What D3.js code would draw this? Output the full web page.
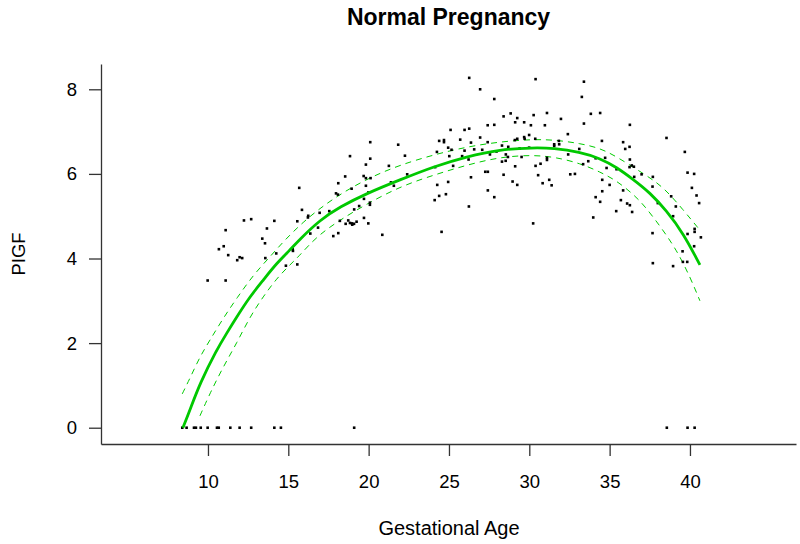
<!DOCTYPE html>
<html><head><meta charset="utf-8">
<script src="https://cdn.jsdelivr.net/npm/d3@7"></script>
<style>
html,body{margin:0;padding:0;background:#fff;}
svg{display:block;font-family:"Liberation Sans",Arial,Helvetica,sans-serif;}
</style></head>
<body>
<svg id="chart" width="800" height="544"></svg>
<script>
// ---- data ----
const title = "Normal Pregnancy";
const xLabel = "Gestational Age";
const yLabel = "PIGF";
const xTicks = [10, 15, 20, 25, 30, 35, 40];
const yTicks = [0, 2, 4, 6, 8];

// observations: [gestational age, PlGF]
const observations = [
[8.40,0],[8.67,0],[9.13,0],[9.25,0],[9.55,0],[9.98,0],[10.56,0],[10.67,0],[11.39,0],[11.97,0],[12.69,0],[14.13,0],[14.54,0],[19.10,0],[38.56,0],[39.85,0],[40.29,0],
[15.68,5.67],[15.85,5.15],[16.24,5.01],[12.24,4.90],[12.69,4.93],[14.13,4.89],[11.10,4.67],[13.67,4.71],[15.56,4.88],[13.38,4.47],[13.55,4.36],[10.98,4.29],[10.68,4.22],[11.26,4.08],[11.97,4.03],[12.13,4.01],[11.82,3.96],[15.27,4.22],[15.29,4.18],[14.25,4.12],[13.57,4.01],[14.85,3.83],[15.56,3.86],[9.98,3.48],[11.10,3.48],
[26.26,8.27],[26.94,8.00],[27.82,7.77],[28.84,7.43],[28.40,7.36],[29.25,7.32],[29.12,7.22],[27.41,7.15],[27.82,7.16],[25.10,7.04],[25.97,7.04],[26.26,7.07],[26.94,6.86],[20.10,6.75],[21.84,6.69],[24.39,6.78],[24.69,6.80],[24.69,6.75],[25.70,6.81],[26.37,6.74],[27.41,6.75],[24.95,6.62],[25.16,6.57],[24.25,6.52],[25.97,6.55],[26.57,6.58],[27.07,6.57],[28.30,6.67],[28.69,6.64],[29.10,6.80],[29.25,6.83],[18.84,6.42],[20.10,6.36],[22.26,6.43],[25.02,6.42],[25.82,6.42],[26.22,6.34],[27.55,6.46],[27.96,6.53],[28.54,6.46],[28.67,6.40],[28.30,6.29],[28.53,6.31],[19.83,6.22],[21.26,6.19],[24.14,6.16],[25.26,6.19],[29.12,6.18],[18.54,5.94],[19.69,5.95],[19.83,5.90],[20.12,5.90],[22.40,5.99],[27.26,6.05],[27.42,6.05],[28.40,5.98],[21.39,5.80],[21.57,5.72],[18.11,5.78],[28.96,5.82],[29.25,5.74],[24.27,5.74],[24.95,5.81],[26.37,5.92],[18.94,5.65],[17.97,5.54],[18.09,5.51],[19.83,5.72],[19.98,5.56],[27.42,5.61],[27.82,5.45],[24.39,5.48],[24.81,5.52],[24.11,5.38],[19.71,5.41],[20.08,5.32],[20.08,5.27],[19.41,5.24],[26.24,5.23],[16.22,4.97],[16.95,5.08],[17.55,5.12],[19.10,5.16],[18.96,4.83],[19.71,4.96],[18.21,4.89],[18.57,4.82],[18.73,4.90],[18.84,4.84],[18.98,4.80],[19.09,4.82],[19.25,4.87],[19.98,4.83],[16.85,4.73],[16.37,4.59],[17.80,4.53],[18.11,4.60],[20.85,4.56],[24.54,4.63],
[30.39,8.24],[33.40,8.18],[33.27,7.82],[30.27,7.39],[31.10,7.44],[29.68,7.22],[30.10,7.15],[30.97,7.15],[31.97,7.30],[33.83,7.42],[34.41,7.44],[33.40,7.19],[36.26,7.16],[32.40,6.94],[29.68,6.87],[29.71,6.83],[29.99,6.92],[30.37,6.83],[31.55,6.70],[31.55,6.66],[31.84,6.78],[31.86,6.70],[34.52,6.78],[35.84,6.75],[35.97,6.59],[36.24,6.64],[38.54,6.85],[39.68,6.52],[29.40,6.60],[29.99,6.62],[33.11,6.59],[32.42,6.46],[29.52,6.40],[31.10,6.38],[31.10,6.33],[30.70,6.24],[30.39,6.19],[33.35,6.23],[33.67,6.30],[34.13,6.37],[34.72,6.38],[36.26,6.34],[36.24,6.16],[36.38,6.20],[36.51,6.17],[35.43,6.11],[34.81,6.14],[30.55,5.97],[32.55,5.99],[32.84,6.00],[34.54,5.86],[35.00,5.74],[36.53,5.93],[36.99,5.99],[37.69,5.93],[39.85,6.03],[40.26,6.00],[30.83,5.78],[31.24,5.86],[31.39,5.73],[34.54,5.59],[34.13,5.45],[34.41,5.34],[35.84,5.61],[35.70,5.38],[36.09,5.30],[36.26,5.26],[36.40,5.10],[35.41,5.12],[33.98,4.97],[30.24,4.83],[37.67,5.70],[38.83,5.47],[38.00,5.31],[40.12,5.67],[40.41,5.49],[40.57,5.31],[39.12,5.23],[38.95,5.00],[37.67,4.60],[39.85,4.58],[40.29,4.70],[40.29,4.63],[40.68,4.50],[39.54,4.17],[40.26,4.29],[37.69,3.89],[39.56,3.92],[39.83,3.92],[38.95,3.82]
];

// fitted curve and confidence band
const fitAge   = [8.44,8.88,9.50,10.54,11.16,11.79,12.61,13.44,14.28,15.10,15.73,16.97,18.21,19.88,21.95,24.02,26.10,28.17,30.24,31.49,33.15,34.39,35.43,36.47,37.50,38.54,39.58,40.62];
const fitValue = [0.00,0.42,1.05,1.84,2.23,2.62,3.10,3.49,3.89,4.20,4.46,4.91,5.22,5.54,5.86,6.17,6.41,6.58,6.62,6.61,6.52,6.37,6.16,5.87,5.56,5.13,4.60,3.85];
const upperAge   = [8.40,8.88,9.50,10.12,10.95,11.79,12.82,13.86,14.69,15.93,17.39,18.84,20.29,21.95,24.02,26.10,28.17,30.24,31.70,33.15,34.39,35.43,37.09,38.33,39.58,40.62];
const upperValue = [0.80,1.17,1.68,2.07,2.59,3.06,3.61,4.04,4.40,4.87,5.31,5.66,5.95,6.21,6.45,6.64,6.76,6.82,6.80,6.72,6.61,6.41,6.01,5.70,5.15,4.67];
const lowerAge   = [9.50,10.12,10.95,11.79,12.61,13.44,14.28,15.10,15.73,16.76,18.21,19.88,21.95,24.02,26.10,28.17,30.24,31.70,33.15,34.39,35.43,36.47,37.19,38.23,39.17,40.00,40.62];
const lowerValue = [0.28,0.81,1.44,2.00,2.62,3.10,3.53,3.85,4.08,4.52,4.91,5.29,5.70,5.97,6.21,6.40,6.45,6.39,6.25,6.05,5.84,5.52,5.24,4.72,4.20,3.57,3.00];

// ---- drawing ----
const svg = d3.select("#chart");
const x = d3.scaleLinear().domain([3.342, 46.60]).range([101, 796]);
const y = d3.scaleLinear().domain([-0.385, 8.598]).range([444, 64]);

const axisColor = "#333";

const gx = svg.append("g").attr("transform", "translate(0,444)")
  .call(d3.axisBottom(x).tickValues(xTicks).tickSize(12).tickSizeOuter(0).tickPadding(19).tickFormat(d3.format("d")));
const gy = svg.append("g").attr("transform", "translate(101,0)")
  .call(d3.axisLeft(y).tickValues(yTicks).tickSize(12).tickSizeOuter(0).tickPadding(12).tickFormat(d3.format("d")));

[gx, gy].forEach(g => {
  g.select(".domain").attr("stroke", axisColor).attr("stroke-width", 1.3);
  g.selectAll(".tick line").attr("stroke", axisColor).attr("stroke-width", 1.3);
  g.selectAll(".tick text").attr("fill", "#000").style("font-size", "18.5px")
   .style("font-family", '"Liberation Sans",Arial,sans-serif');
});

const line = (ax, vals) => d3.line()
  .x((d, i) => x(ax[i])).y(d => y(d))
  .curve(d3.curveBasis)(vals);

svg.append("path").attr("d", line(upperAge, upperValue))
  .attr("fill", "none").attr("stroke", "#00cc00").attr("stroke-width", 1)
  .attr("stroke-dasharray", "6,5");
svg.append("path").attr("d", line(lowerAge, lowerValue))
  .attr("fill", "none").attr("stroke", "#00cc00").attr("stroke-width", 1)
  .attr("stroke-dasharray", "6,5");

svg.append("g").selectAll("rect").data(observations).join("rect")
  .attr("x", d => x(d[0]) - 1.3).attr("y", d => y(d[1]) - 1.3)
  .attr("width", 2.6).attr("height", 2.6).attr("fill", "#000");

svg.append("path").attr("d", line(fitAge, fitValue))
  .attr("fill", "none").attr("stroke", "#00c800").attr("stroke-width", 2.8)
  .attr("stroke-linejoin", "round");

svg.append("text").attr("x", 448.5).attr("y", 25).attr("text-anchor", "middle")
  .style("font-size", "23px").style("font-weight", "bold").text(title);
svg.append("text").attr("x", 449).attr("y", 535).attr("text-anchor", "middle")
  .style("font-size", "20px").text(xLabel);
svg.append("text").attr("transform", "translate(24.5,254) rotate(-90)").attr("text-anchor", "middle")
  .style("font-size", "18.5px").text(yLabel);
</script>
</body></html>
